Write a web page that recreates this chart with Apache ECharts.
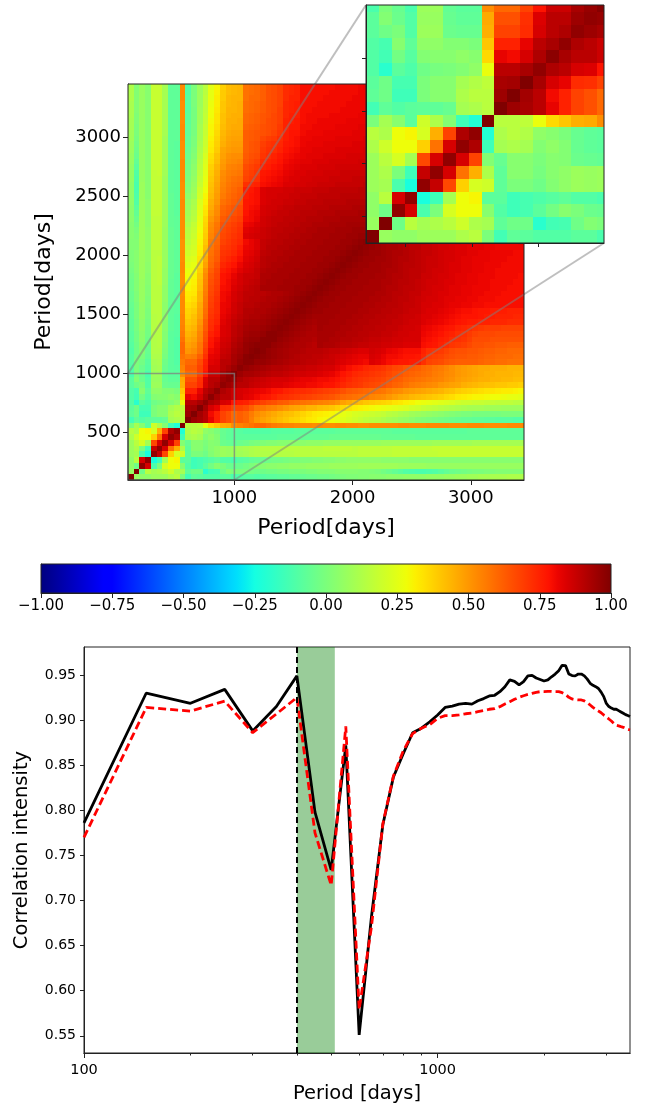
<!DOCTYPE html>
<html>
<head>
<meta charset="utf-8">
<title>Period correlation</title>
<style>
  html, body { margin: 0; padding: 0; background: #fff; }
  #chart { width: 646px; height: 1106px; }
</style>
<script src="https://cdn.jsdelivr.net/npm/echarts@6/dist/echarts.min.js"></script>
</head>
<body>
<div id="chart"></div>
<script>
// correlation x100, lower triangle, one row per period bin (bottom row first).
// rows above 41 stop at column 41: the rest sits behind the inset
var corrRows = [
  [100],
  [7,100],
  [5,-3,97],
  [5,15,85,97],
  [8,10,-12,-24,97],
  [8,12,0,-15,88,97],
  [8,15,22,10,67,85,97],
  [12,20,28,28,38,58,85,97],
  [15,12,28,30,22,45,68,92,97],
  [0,10,3,-8,20,12,2,-15,-22,100],
  [-14,-7,-10,-8,-7,-7,-5,10,12,15,100],
  [-7,-3,-15,-15,0,3,3,12,15,15,95,100],
  [-8,-3,-13,-13,0,3,3,10,13,16,93,94,100],
  [-10,-20,-8,-11,-3,-1,0,2,5,27,90,90,93,97],
  [-10,-14,-2,-9,2,3,3,5,3,36,82,80,85,92,98],
  [-10,-13,3,-7,5,5,2,2,0,40,75,75,82,90,93,97],
  [-8,-3,0,-10,8,8,-4,-5,-5,45,68,68,73,85,90,92,97],
  [-8,2,-4,-10,7,7,-5,-7,-7,46,65,65,72,84,90,90,95,97],
  [-12,0,-5,-12,8,8,-6,-8,-8,52,60,60,68,78,87,87,93,96,99],
  [-10,0,-4,-9,9,10,-4,-8,-9,54,62,62,68,76,85,85,90,92,95,98],
  [-9,0,-2,-8,10,11,-3,-8,-10,56,60,60,66,75,83,84,90,90,93,96,98],
  [-9,-2,0,-6,12,12,-1,-8,-10,58,55,56,62,72,82,83,88,89,93,95,98,99],
  [-10,-3,2,-5,13,13,0,-8,-10,60,50,52,58,70,80,82,87,88,92,94,96,98,99],
  [-9,-3,3,-4,13,14,1,-8,-10,60,48,50,57,68,78,81,86,87,91,93,96,97,98,98],
  [-8,-2,4,-3,13,14,2,-8,-10,58,46,48,55,66,77,80,85,86,90,92,95,96,96,98,98],
  [-8,-2,4,-2,13,14,2,-8,-9,56,44,46,54,65,75,78,84,85,89,91,94,95,95,96,98,98],
  [-7,-1,5,-2,14,14,3,-7,-9,55,42,44,52,63,73,77,84,85,89,91,93,94,94,95,96,97,98],
  [-7,-1,5,-1,14,15,3,-7,-9,54,40,42,50,62,72,75,83,85,88,90,92,93,93,94,95,96,97,98],
  [-6,0,6,0,14,15,4,-7,-9,54,38,41,48,60,71,74,82,84,87,89,91,92,92,93,94,95,96,97,98],
  [-6,0,6,0,15,15,4,-7,-8,53,37,39,47,59,70,73,81,83,86,88,91,91,92,92,93,94,95,96,97,98],
  [-5,0,6,1,15,15,4,-6,-8,53,35,37,46,58,69,73,81,82,86,88,90,90,91,92,92,93,94,95,96,97,98],
  [-4,1,7,1,15,15,5,-6,-8,53,33,35,44,57,68,72,80,82,85,87,89,90,90,91,92,92,93,94,95,96,97,98],
  [-4,1,7,2,15,15,5,-6,-8,52,32,33,44,56,67,71,80,81,85,87,89,89,90,90,91,92,92,93,94,95,96,97,98],
  [-3,2,7,2,15,15,5,-6,-8,53,30,32,42,55,66,70,79,80,84,86,88,89,90,93,93,93,94,94,94,95,95,96,97,98],
  [-3,2,7,3,15,16,6,-6,-8,52,29,31,41,54,65,69,78,80,83,85,87,88,89,92,93,93,93,94,94,94,95,95,96,97,98],
  [-2,2,8,3,15,16,6,-5,-8,52,28,30,40,53,64,68,78,79,82,85,87,87,88,92,92,93,93,93,94,94,94,95,95,96,97,98],
  [-1,3,8,4,15,16,6,-5,-7,53,26,28,38,51,62,67,76,78,80,83,85,86,88,91,92,92,93,93,93,94,94,94,95,95,96,97,98],
  [0,3,8,4,15,16,7,-5,-7,53,24,26,36,48,60,65,74,76,78,81,84,85,87,90,91,92,92,93,93,93,94,94,94,95,95,96,97,98],
  [1,3,8,5,15,16,7,-5,-7,52,22,24,34,46,59,63,72,74,76,79,83,84,86,90,91,91,92,92,93,93,93,94,94,94,95,95,96,97,98],
  [1,3,8,5,15,15,7,-5,-7,52,20,22,32,44,58,62,71,72,74,77,82,83,85,89,90,91,91,92,92,93,93,93,94,94,94,95,95,96,97,98],
  [2,2,9,5,16,16,7,-5,-7,51,18,21,31,42,57,61,70,71,73,76,81,82,84,88,90,90,91,91,92,92,93,93,93,94,94,94,95,95,96,97,98],
  [2,2,9,5,16,16,7,-5,-7,51,16,20,30,40,56,60,68,70,72,74,80,82,84,88,89,90,90,91,91,92,92,93,93,93,94,94,94,95,95,96,97,98],
  [3,1,9,5,16,16,7,-5,-7,52,15,19,29,39,54,59,67,69,71,73,84,85,86,87,88,89,90,90,91,91,92,92,93,93,93,94,94,94,95,95,96,96],
  [3,0,9,5,16,16,7,-5,-7,52,14,18,28,38,53,58,66,68,70,72,83,84,85,87,88,89,89,90,90,91,91,92,92,93,93,93,94,94,94,95,95,95],
  [3,-2,9,4,16,16,8,-6,-7,52,12,17,27,37,52,57,65,67,69,71,81,82,84,86,87,88,89,89,90,90,91,91,92,92,92,93,93,93,94,94,94,94],
  [4,-4,9,4,16,16,8,-6,-7,52,10,15,26,36,50,55,63,65,67,69,79,80,82,86,87,88,88,89,89,90,90,91,91,91,92,92,92,93,93,93,93,93],
  [4,-6,9,4,17,17,8,-6,-8,52,9,14,25,34,48,53,61,63,65,67,78,80,81,85,86,87,88,88,89,89,90,90,90,91,91,91,92,92,92,92,93,93],
  [4,-8,8,4,17,17,8,-6,-8,53,7,12,24,33,46,52,60,62,64,66,77,79,80,85,86,86,87,88,88,89,89,89,90,90,90,91,91,91,91,92,92,92],
  [5,-10,8,4,17,17,8,-6,-8,53,6,11,23,31,45,50,58,60,62,64,77,78,79,84,85,86,86,87,87,88,88,89,89,89,90,90,90,90,91,91,91,91],
  [5,-11,8,3,17,17,8,-6,-8,52,4,9,21,30,43,49,56,59,61,63,76,78,79,84,85,85,86,86,87,87,88,88,88,89,89,89,89,90,90,90,90,90],
  [5,-12,8,3,17,17,8,-7,-8,52,2,8,20,28,42,48,55,58,60,62,76,77,79,84,85,85,85,86,86,87,87,87,88,88,88,89,89,89,89,89,90,90],
  [5,-12,8,3,17,17,8,-7,-8,52,1,7,18,27,41,47,54,57,59,60,72,74,75,79,80,81,82,84,84,85,85,86,86,87,87,87,88,88,88,88,88,89],
  [6,-11,7,3,17,17,8,-7,-8,53,0,6,17,26,40,46,53,56,58,59,68,70,72,78,79,80,81,83,84,84,85,85,86,86,86,87,87,87,87,88,88,88],
  [6,-10,7,3,17,18,9,-7,-8,53,-1,5,16,25,39,45,52,55,56,57,67,69,71,77,78,79,80,82,83,84,84,85,85,85,86,86,86,87,87,87,87,87],
  [6,-8,7,3,18,18,9,-7,-8,53,-2,4,15,24,38,44,50,54,55,56,66,68,70,75,76,78,79,81,82,83,84,84,84,85,85,85,86,86,86,86,86,86],
  [7,-6,7,3,18,18,9,-7,-8,53,-3,3,14,23,36,42,49,52,53,54,64,66,68,73,75,76,78,80,81,82,83,83,84,84,84,85,85,85,85,85,86,86],
  [7,-4,7,3,18,18,9,-7,-8,52,-4,2,13,22,35,41,48,51,52,52,63,65,66,71,73,75,77,79,80,81,82,83,83,83,84,84,84,84,85,85,85,85],
  [8,-3,7,3,18,18,9,-7,-8,52,-5,1,12,20,33,39,47,49,50,50,62,64,65,70,72,73,75,78,79,80,82,82,83,83,83,83,84,84,84,84,84,85],
  [8,-2,7,3,18,18,9,-7,-8,52,-6,0,11,19,32,38,45,48,49,49,62,64,65,69,71,72,74,77,78,79,81,82,82,82,83,83,83,83,83,84,84,84],
  [9,-1,7,3,18,18,9,-7,-7,53,-6,0,10,19,31,37,44,47,48,48,62,63,64,67,69,70,73,76,78,79,81,81,82,82,82,82,83,83,83,83,83,84],
  [9,0,7,3,18,18,10,-7,-7,53,-7,-1,10,18,30,36,43,46,47,47,62,63,64,65,66,68,71,76,78,78,80,81,81,81,82,82,82,82,82,83,83,83],
  [10,0,7,3,18,18,10,-7,-7,53,-7,-1,10,18,30,35,42,45,46,46,61,62,63,65,66,67,70,75,77,77,80,80,81,81,81,81,82,82,82,82,83,83],
  [10,1,7,3,18,18,10,-7,-7,52,-8,-1,9,17,29,34,41,45,45,46,60,61,62,64,66,67,69,75,76,77,79,80,80,81,81,81,81,81,82,82,82,82],
  [11,1,7,3,18,18,10,-7,-7,52,-8,-1,9,17,28,34,41,44,45,45,60,61,62,64,65,67,69,74,76,76,79,80,80,80,80,81,81,81,81,81,82,82],
  [11,2,7,3,18,18,10,-7,-7,52,-9,-1,9,16,28,33,40,44,44,45,59,60,61,63,65,66,69,74,75,76,79,79,80,80,80,80,80,81,81,81,81,81],
  [11,2,7,3,18,18,10,-7,-7,52,-9,0,8,16,27,32,40,43,44,45,59,60,61,63,65,66,68,74,75,76,79,79,79,80,80,80,80,80,81,81,81,81],
  [12,2,7,3,18,18,10,-7,-7,53,-9,0,8,16,26,32,39,43,44,44,58,60,60,62,65,66,68,73,75,75,79,79,79,79,80,80,80,80,80,81,81,81],
  [12,2,7,3,18,18,10,-7,-7,53,-10,0,8,15,26,31,39,42,43,44,58,59,60,62,65,66,68,73,74,75,79,79,79,79,79,80,80,80,80,80,81,81],
  [12,2,7,3,18,18,10,-7,-7,53,-10,0,8,15,25,30,38,42,43,44,58,59,60,62,65,66,68,73,74,75,79,79,79,79,79,79,80,80,80,80,81,82]
];
var dayMin = 100, dayMax = 3450, zoomMax = 1000;
var mainTicks = [1000, 2000, 3000];
var mainYTicks = [500, 1000, 1500, 2000, 2500, 3000];
var insetXTicks = [250, 500, 750];
var insetYTicks = [200, 400, 600, 800];

// lower panel
var periods = [100,150,200,250,300,350,400,450,500,550,600,650,700,750,800,850,900,950,1000,1050,1100,1150,1200,1250,1300,1350,1400,1450,1500,1550,1600,1650,1700,1750,1800,1850,1900,1950,2000,2050,2100,2150,2200,2250,2300,2350,2400,2450,2500,2550,2600,2650,2700,2750,2800,2850,2900,2950,3000,3050,3100,3150,3200,3250,3300,3350,3400,3450,3500];
var blackLine = [.786,.93,.9186,.934,.888,.915,.949,.798,.734,.872,.551,.682,.784,.837,.863,.886,.891,.898,.9056,.914,.9155,.9177,.9184,.9177,.9214,.9238,.9268,.9275,.9315,.937,.9445,.943,.939,.9426,.949,.9496,.9467,.945,.9433,.9445,.948,.951,.9548,.9607,.9604,.951,.9493,.949,.951,.951,.949,.9454,.9408,.9385,.937,.935,.931,.926,.9184,.915,.9133,.912,.912,.9105,.909,.9075,.906,.905,.904];
var redLine = [.77,.914,.91,.921,.886,.9068,.925,.775,.717,.893,.579,.671,.785,.838,.866,.885,.891,.895,.902,.905,.905,.9058,.907,.9078,.9093,.9105,.912,.9127,.9149,.9178,.9204,.923,.9252,.927,.9285,.9297,.9308,.9315,.9315,.9319,.9319,.9315,.9315,.9304,.9285,.9252,.9234,.9226,.9223,.9223,.9212,.9193,.9167,.9141,.9119,.91,.9082,.9056,.9038,.9012,.899,.8964,.8942,.8935,.8927,.892,.8909,.8897,.889];
var bandStart = 400, bandEnd = 512;
var lineYTicks = [0.55, 0.6, 0.65, 0.7, 0.75, 0.8, 0.85, 0.9, 0.95];
var lineXTicks = [100, 1000];
var lineMinorTicks = [200, 300, 400, 500, 600, 700, 800, 900, 2000, 3000];

var fontName = 'DejaVu Sans';
var axisColor = '#222';

// jet colour map
function jetColor(t) {
  function ramp(pts) {
    for (var i = 1; i < pts.length; i++) {
      if (t <= pts[i][0]) {
        var a = pts[i - 1], b = pts[i];
        return Math.round(255 * (a[1] + (b[1] - a[1]) * (t - a[0]) / (b[0] - a[0])));
      }
    }
    return Math.round(255 * pts[pts.length - 1][1]);
  }
  var r = ramp([[0, 0], [0.35, 0], [0.66, 1], [0.89, 1], [1, 0.5]]);
  var g = ramp([[0, 0], [0.125, 0], [0.375, 1], [0.64, 1], [0.91, 0], [1, 0]]);
  var b = ramp([[0, 0.5], [0.11, 1], [0.34, 1], [0.65, 0], [1, 0]]);
  return 'rgb(' + r + ',' + g + ',' + b + ')';
}
var jetList = [], jetStops = [];
for (var c = 0; c <= 64; c++) {
  jetList.push(jetColor(c / 64));
  jetStops.push({ offset: c / 64, color: jetColor(c / 64) });
}

// cells: [x0, x1, y0, y1, value], mirrored over the diagonal
var binCount = corrRows.length;
var binDays = (dayMax - dayMin) / binCount;
var cells = [];
corrRows.forEach(function (row, j) {
  row.forEach(function (v, i) {
    var xa = dayMin + i * binDays, ya = dayMin + j * binDays;
    cells.push([xa, xa + binDays, ya, ya + binDays, v / 100]);
    if (i !== j) cells.push([ya, ya + binDays, xa, xa + binDays, v / 100]);
  });
});
var insetCells = cells.filter(function (d) { return d[0] < zoomMax && d[2] < zoomMax; });

function renderCell(params, api) {
  var p0 = api.coord([api.value(0), api.value(3)]);
  var p1 = api.coord([api.value(1), api.value(2)]);
  // snap to whole pixels so neighbouring cells leave no seams
  var x0 = Math.round(p0[0]), y0 = Math.round(p0[1]);
  var rect = echarts.graphic.clipRectByRect(
    { x: x0, y: y0, width: Math.round(p1[0]) - x0, height: Math.round(p1[1]) - y0 },
    params.coordSys
  );
  if (!rect) return;
  return { type: 'rect', shape: rect, style: { fill: api.visual('color') } };
}

function renderBar(params, api) {
  var p0 = api.coord([api.value(0), 1]);
  var p1 = api.coord([api.value(1), 0]);
  return {
    type: 'rect',
    shape: { x: p0[0], y: p0[1], width: p1[0] - p0[0], height: p1[1] - p0[1] },
    style: { fill: new echarts.graphic.LinearGradient(0, 0, 1, 0, jetStops) }
  };
}

// shared axis look
function baseAxis(extra) {
  var axis = {
    type: 'value',
    axisLine: { onZero: false, lineStyle: { color: axisColor, width: 1 } },
    axisTick: { length: 4, lineStyle: { color: axisColor, width: 1 } },
    axisLabel: { color: '#000', fontFamily: fontName, fontSize: 14 },
    splitLine: { show: false },
    nameLocation: 'middle',
    nameTextStyle: { color: '#000', fontFamily: fontName, fontSize: 19.5 }
  };
  return echarts.util.merge(axis, extra, true);
}
function twoDigits(v) {
  return v.toFixed(2).replace('-', '\u2212');
}
function plainNumber(v) {
  return String(Math.round(v));
}

var chart = echarts.init(document.getElementById('chart'), null, { renderer: 'canvas' });
chart.setOption({
  animation: false,
  backgroundColor: '#fff',
  grid: [
    { left: 128, top: 84, width: 396, height: 396 },
    { left: 366, top: 5, width: 238, height: 238 },
    { left: 41, top: 564, width: 570, height: 29 },
    { left: 84, top: 647, width: 546, height: 406, show: true, borderColor: axisColor, borderWidth: 1 }
  ],
  visualMap: {
    show: false, type: 'continuous', min: -1, max: 1, dimension: 4, seriesIndex: [0, 1],
    inRange: { color: jetList }
  },
  xAxis: [
    baseAxis({
      gridIndex: 0, min: dayMin, max: dayMax, name: 'Period[days]', nameGap: 37,
      nameTextStyle: { fontSize: 22 },
      axisTick: { customValues: mainTicks, length: 5 },
      axisLabel: { customValues: mainTicks, fontSize: 18, margin: 9, formatter: plainNumber }
    }),
    baseAxis({
      gridIndex: 1, min: dayMin, max: zoomMax, z: 6,
      axisTick: { customValues: insetXTicks },
      axisLabel: { show: false }
    }),
    baseAxis({
      gridIndex: 2, min: -1, max: 1, interval: 0.25,
      axisTick: { length: 5 },
      axisLabel: { fontSize: 15, margin: 6, formatter: twoDigits }
    }),
    baseAxis({
      type: 'log', logBase: 10, gridIndex: 3, position: 'bottom', min: 100, max: 3500,
      name: 'Period [days]', nameGap: 31,
      axisTick: { customValues: lineXTicks, length: 5 },
      axisLabel: { customValues: lineXTicks, fontSize: 14.5, margin: 10, formatter: plainNumber }
    }),
    baseAxis({
      type: 'log', logBase: 10, gridIndex: 3, position: 'bottom', min: 100, max: 3500,
      axisTick: { customValues: lineMinorTicks, length: 2.5 },
      axisLabel: { show: false }
    })
  ],
  yAxis: [
    baseAxis({
      gridIndex: 0, min: dayMin, max: dayMax, name: 'Period[days]', nameGap: 73,
      nameTextStyle: { fontSize: 22 },
      axisTick: { customValues: mainYTicks, length: 5 },
      axisLabel: { customValues: mainYTicks, fontSize: 18, margin: 7, formatter: plainNumber }
    }),
    baseAxis({
      gridIndex: 1, min: dayMin, max: zoomMax, z: 6,
      axisTick: { customValues: insetYTicks },
      axisLabel: { show: false }
    }),
    baseAxis({
      gridIndex: 2, min: 0, max: 1,
      axisTick: { show: false }, axisLabel: { show: false }
    }),
    baseAxis({
      gridIndex: 3, min: 0.531, max: 0.981, name: 'Correlation intensity', nameGap: 52,
      axisTick: { customValues: lineYTicks },
      axisLabel: { customValues: lineYTicks, formatter: twoDigits }
    })
  ],
  series: [
    {
      type: 'custom', xAxisIndex: 0, yAxisIndex: 0, z: 2, data: cells, progressive: 0, silent: true,
      encode: { x: [0, 1], y: [2, 3] }, renderItem: renderCell
    },
    {
      type: 'custom', xAxisIndex: 1, yAxisIndex: 1, z: 5, data: insetCells, progressive: 0, silent: true,
      encode: { x: [0, 1], y: [2, 3] }, renderItem: renderCell
    },
    {
      type: 'custom', xAxisIndex: 2, yAxisIndex: 2, data: [[-1, 1]], silent: true,
      encode: { x: [0, 1] }, renderItem: renderBar
    },
    {
      type: 'line', xAxisIndex: 3, yAxisIndex: 3, z: 3, silent: true,
      data: periods.map(function (p, i) { return [p, blackLine[i]]; }),
      showSymbol: false,
      lineStyle: { color: '#000', width: 2.8 },
      markArea: {
        silent: true,
        itemStyle: { color: 'rgba(0,128,0,0.4)' },
        data: [[{ xAxis: bandStart }, { xAxis: bandEnd }]]
      },
      markLine: {
        silent: true, symbol: 'none', animation: false,
        label: { show: false },
        lineStyle: { color: '#000', type: [6, 4], width: 2 },
        data: [{ xAxis: bandStart }]
      }
    },
    {
      type: 'line', xAxisIndex: 3, yAxisIndex: 3, z: 4, silent: true,
      data: periods.map(function (p, i) { return [p, redLine[i]]; }),
      showSymbol: false,
      lineStyle: { color: '#f00', width: 2.8, type: [8, 4] }
    }
  ]
});

// zoom box, connectors and frames go through the axes as well
function toMain(x, y) { return chart.convertToPixel({ gridIndex: 0 }, [x, y]); }
function toInset(x, y) { return chart.convertToPixel({ gridIndex: 1 }, [x, y]); }
function frame(a, b, z, stroke, width) {
  return {
    type: 'rect', z: z, silent: true,
    shape: { x: a[0], y: b[1], width: b[0] - a[0], height: a[1] - b[1] },
    style: { fill: 'none', stroke: stroke, lineWidth: width }
  };
}
function connector(a, b) {
  return {
    type: 'line', z: 3, silent: true,
    shape: { x1: a[0], y1: a[1], x2: b[0], y2: b[1] },
    style: { stroke: 'rgba(128,128,128,0.5)', lineWidth: 2 }
  };
}
chart.setOption({
  graphic: [
    frame(toMain(dayMin, dayMin), toMain(zoomMax, zoomMax), 3, 'rgba(128,128,128,0.75)', 1.5),
    connector(toMain(dayMin, zoomMax), toInset(dayMin, zoomMax)),
    connector(toMain(zoomMax, dayMin), toInset(zoomMax, dayMin)),
    frame(toMain(dayMin, dayMin), toMain(dayMax, dayMax), 4, axisColor, 1),
    frame(toInset(dayMin, dayMin), toInset(zoomMax, zoomMax), 7, axisColor, 1),
    frame(chart.convertToPixel({ gridIndex: 2 }, [-1, 0]), chart.convertToPixel({ gridIndex: 2 }, [1, 1]), 7, axisColor, 1)
  ]
});

window.addEventListener('resize', function () {
  chart.resize();
});
</script>
</body>
</html>
